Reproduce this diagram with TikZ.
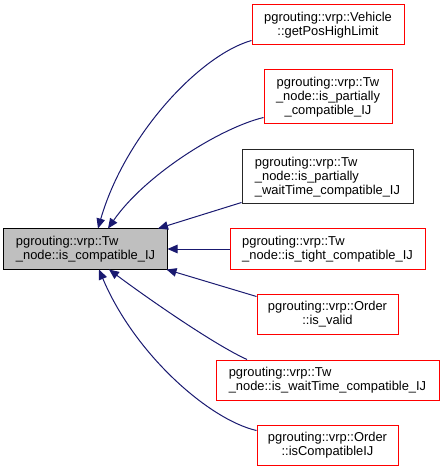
\documentclass[tikz,border=0pt]{standalone}
\usepackage{fontspec}
\setmainfont{Liberation Sans}
\usetikzlibrary{arrows.meta}
\definecolor{edgeblue}{HTML}{191970}
\definecolor{nodered}{HTML}{FF0000}
\definecolor{maingray}{HTML}{BFBFBF}
\tikzset{
  box/.style={draw=nodered, fill=white, line width=1bp, rectangle, inner sep=0pt,
    font=\fontsize{12.9bp}{14bp}\selectfont},
  cbox/.style={box, align=center},
  lbox/.style={box, align=left},
  mainbox/.style={lbox, draw=black, fill=maingray},
  blackbox/.style={lbox, draw=black!85},
  edge/.style={draw=edgeblue, line width=1bp, -{Triangle[length=10bp,width=8.5bp]}, fill=none},
}
\begin{document}
\begin{tikzpicture}[x=1bp, y=-1bp]
\useasboundingbox (0,0) rectangle (445,471);
\node[mainbox, minimum width=163bp, minimum height=40bp] (m) at (85.5,249) {pgrouting::vrp::Tw\\\_node::is\_compatible\_IJ};
\node[cbox, minimum width=152bp, minimum height=40bp] (n1) at (328,25) {pgrouting::vrp::Vehicle\\::getPosHighLimit};
\node[cbox, minimum width=128bp, minimum height=54bp] (n2) at (328,97) {pgrouting::vrp::Tw\\\_node::is\_partially\\\_compatible\_IJ};
\node[blackbox, minimum width=171bp, minimum height=54bp] (n3) at (327.5,177) {pgrouting::vrp::Tw\\\_node::is\_partially\\\_waitTime\_compatible\_IJ};
\node[lbox, minimum width=195bp, minimum height=40bp] (n4) at (327.5,249) {pgrouting::vrp::Tw\\\_node::is\_tight\_compatible\_IJ};
\node[cbox, minimum width=141bp, minimum height=40bp] (n5) at (327.5,314) {pgrouting::vrp::Order\\::is\_valid};
\node[lbox, minimum width=223bp, minimum height=40bp] (n6) at (327.5,380) {pgrouting::vrp::Tw\\\_node::is\_waitTime\_compatible\_IJ};
\node[cbox, minimum width=141bp, minimum height=40bp] (n7) at (327.5,445) {pgrouting::vrp::Order\\::isCompatibleIJ};

\draw[edge] ([yshift=5bp]n1.south west) .. controls (200,55) and (125,135) .. ([xshift=12.5bp]m.north);
\draw[edge] ([yshift=7bp]n2.south west) .. controls (220,128) and (145,175) .. ([xshift=22.5bp]m.north);
\draw[edge] ([yshift=2bp]n3.south west) -- ([xshift=72.5bp]m.north);
\draw[edge] (n4.west) -- (m.east);
\draw[edge] ([yshift=-3bp]n5.north west) -- ([xshift=-1bp]m.south east);
\draw[edge] ([xshift=-80.5bp]n6.north) .. controls (215,345) and (150,300) .. ([xshift=23.5bp]m.south);
\draw[edge] ([yshift=-6bp]n7.north west) .. controls (210,420) and (135,355) .. ([xshift=13.5bp]m.south);
\end{tikzpicture}
\end{document}
